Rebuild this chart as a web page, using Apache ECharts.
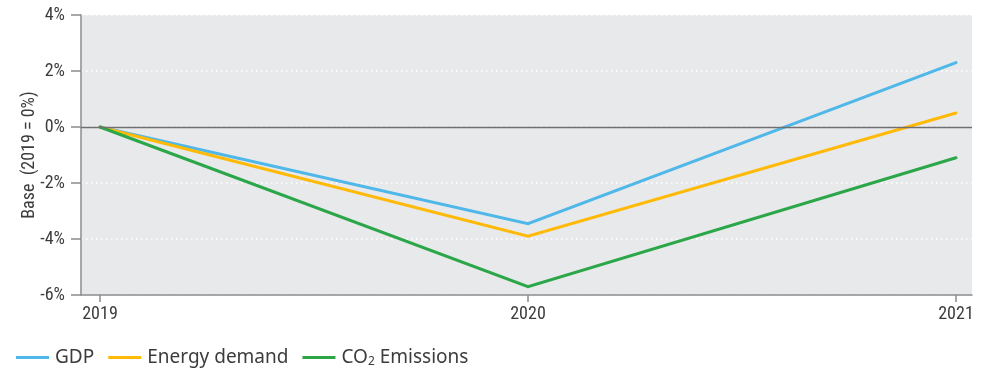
<!DOCTYPE html>
<html>
<head>
<meta charset="utf-8">
<script src="https://cdn.jsdelivr.net/npm/echarts@6/dist/echarts.min.js"></script>
<style>
  html, body { margin: 0; padding: 0; background: #ffffff; }
  #chart { width: 993px; height: 368px; }
</style>
</head>
<body>
<div id="chart"></div>
<script>
// Years on the horizontal axis
const years = [2019, 2020, 2021];
// Change relative to 2019, in percent
const gdp = [0, -3.45, 2.3];
const energyDemand = [0, -3.9, 0.5];
const co2Emissions = [0, -5.7, -1.1];
// Vertical axis ticks (percent)
const yTicks = [-6, -4, -2, 0, 2, 4];

const seriesNames = ['GDP', 'Energy demand', 'CO2 Emissions'];
const seriesColors = ['#4fb8e9', '#ffb907', '#2ba648'];

const narrow = '"Liberation Sans Narrow", "Roboto Condensed", "Liberation Sans", sans-serif';
const legendFont = '"Noto Sans", "Open Sans", sans-serif';
const textColor = '#3c3c3c';

// A little padding around the first and last year inside the plot box
const padLeft = 0.0444;
const padRight = 0.0374;

function pairs(values) {
  return years.map((y, i) => [y, values[i]]);
}

const chart = echarts.init(document.getElementById('chart'), null, { renderer: 'canvas' });

const lineSeries = [gdp, energyDemand, co2Emissions].map((vals, i) => ({
  name: seriesNames[i],
  type: 'line',
  data: pairs(vals),
  showSymbol: false,
  symbol: 'none',
  z: 3,
  lineStyle: { color: seriesColors[i], width: 3, cap: 'round', join: 'miter' },
  itemStyle: { color: seriesColors[i] },
  emphasis: { disabled: true }
}));

// Solid reference line at zero
const zeroLine = {
  name: 'zero',
  type: 'line',
  data: [],
  z: 1,
  silent: true,
  markLine: {
    silent: true,
    symbol: ['none', 'none'],
    label: { show: false },
    lineStyle: { color: '#6f6f6f', width: 1.3, type: 'solid' },
    data: [{ yAxis: 0 }]
  }
};

chart.setOption({
  animation: false,
  backgroundColor: '#ffffff',
  grid: {
    left: 81, right: 21, top: 15, bottom: 73,
    show: true,
    backgroundColor: '#e8e9eb',
    borderWidth: 0
  },
  xAxis: {
    type: 'value',
    min: years[0] - padLeft,
    max: years[years.length - 1] + padRight,
    splitLine: { show: false },
    axisLine: { show: true, onZero: false, lineStyle: { color: '#8c8c8c', width: 1.5 } },
    axisTick: { show: true, customValues: years, length: 7, lineStyle: { color: '#8c8c8c', width: 1.5 } },
    axisLabel: {
      customValues: years,
      formatter: v => String(Math.round(v)),
      color: textColor, fontFamily: narrow, fontSize: 18, margin: 10
    }
  },
  yAxis: {
    type: 'value',
    min: yTicks[0],
    max: yTicks[yTicks.length - 1],
    interval: 2,
    name: 'Base  (2019 = 0%)',
    nameLocation: 'middle',
    nameGap: 43,
    nameMoveOverlap: false,
    nameTextStyle: { color: textColor, fontFamily: narrow, fontSize: 18 },
    axisLine: { show: true, onZero: false, lineStyle: { color: '#8c8c8c', width: 1.5 } },
    axisTick: { show: true, length: 10, lineStyle: { color: '#8c8c8c', width: 1.5 } },
    axisLabel: {
      formatter: v => v + '%',
      color: textColor, fontFamily: narrow, fontSize: 18, margin: 16
    },
    splitLine: {
      show: true,
      lineStyle: { color: '#ffffff', width: 1.5, type: [1.5, 3.5] }
    }
  },
  legend: {
    data: seriesNames.map((n, i) => ({ name: n, itemStyle: { color: seriesColors[i] } })),
    left: 11,
    top: 343,
    icon: 'rect',
    itemWidth: 33,
    itemHeight: 3,
    itemGap: 14,
    selectedMode: false,
    formatter: name => name === 'CO2 Emissions' ? 'CO{sub|2} Emissions' : name,
    textStyle: {
      color: textColor,
      fontFamily: legendFont,
      fontSize: 19,
      padding: [0, 0, 0, 1],
      rich: {
        sub: { fontSize: 12, verticalAlign: 'bottom', padding: [9, 0, 0, 0], color: textColor,
               fontFamily: legendFont }
      }
    }
  },
  series: [zeroLine, ...lineSeries]
});
</script>
</body>
</html>
